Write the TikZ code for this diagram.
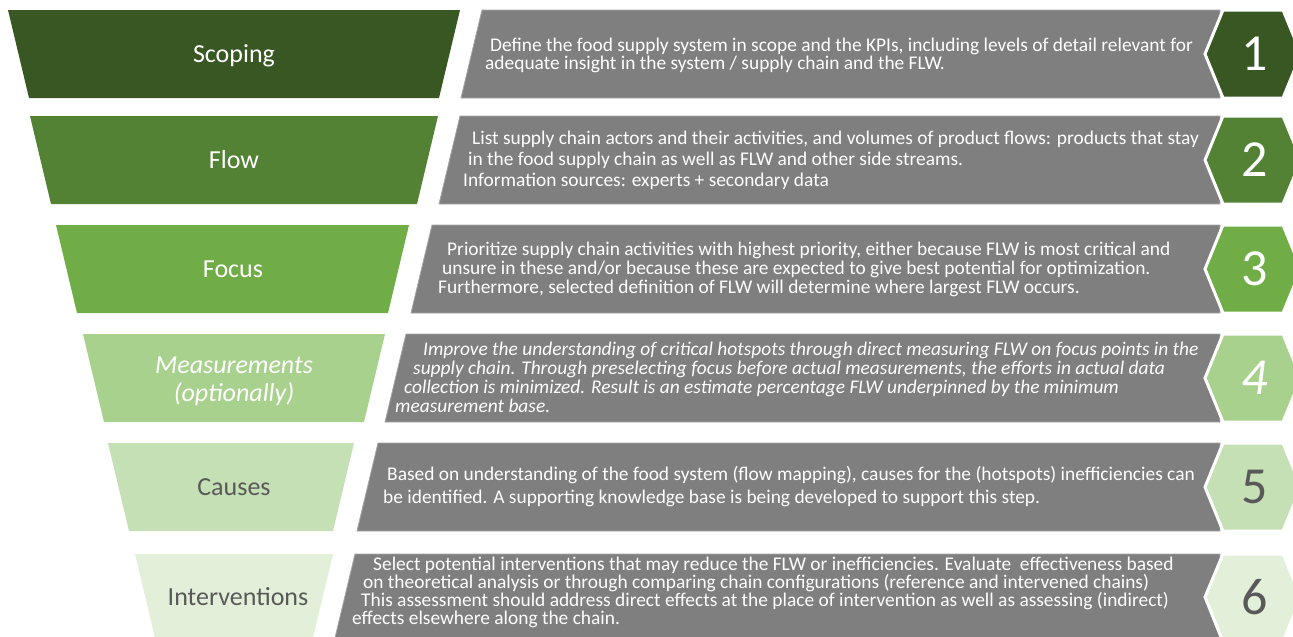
\documentclass[tikz,border=0pt]{standalone}
\usepackage{fontspec}
\setmainfont{Carlito}
\usepackage{tikz}

\definecolor{stageA}{HTML}{385723}
\definecolor{stageB}{HTML}{548235}
\definecolor{stageC}{HTML}{70AD47}
\definecolor{stageD}{HTML}{A9D18E}
\definecolor{stageE}{HTML}{C5E0B4}
\definecolor{stageF}{HTML}{E2F0D9}
\definecolor{boxgrey}{HTML}{7F7F7F}
\definecolor{boxedge}{HTML}{A6A6A6}
\definecolor{darktext}{HTML}{595959}

\begin{document}
\begin{tikzpicture}
            [
            x=1pt, y=-1pt,
            stagename/.style={font={\fontsize{26}{28}\selectfont},
                text=white, inner sep=0pt, text height=16.7pt, text depth=0pt},
            notetext/.style={font={\fontsize{19.4}{#1}\selectfont},
                text=white, align=left, anchor=west, inner sep=0pt},
            greybox/.style={fill=boxgrey, draw=boxedge, line width=0.8pt},
            badge/.style={draw=white, line width=3pt, line join=miter},
            numtext/.style={font={\fontsize{52}{52}\selectfont},
                text=white, inner sep=0pt},
            ]
            \useasboundingbox (0,0) rectangle (1293,637);
            \clip (0,0) rectangle (1293,637);

            % Scoping
            \fill[stageA] (8,10) -- (460,10) -- (439,98) -- (29,98) -- cycle;
            \node[stagename] (scoping) at (234,54) {Scoping};
            \filldraw[greybox] (482,10) -- (1220,10) -- (1220,98) -- (461,98) -- cycle;
            \node[notetext=18] (scopingtext) at (485,55) {\hspace*{5pt}Define the food supply system in scope and the KPIs, including levels of detail relevant for\\adequate insight in the system / supply chain and the FLW.};
            \filldraw[badge, fill=stageA] (1205,54) -- (1223,10) -- (1283,10) -- (1301,54) -- (1283,98) -- (1223,98) -- cycle;
            \node[numtext] (num1) at (1255,54) {1};

            % Flow
            \fill[stageB] (30,116) -- (438,116) -- (417,204) -- (51,204) -- cycle;
            \node[stagename] (flow) at (234,160) {Flow};
            \filldraw[greybox] (460,116) -- (1220,116) -- (1220,204) -- (439,204) -- cycle;
            \node[notetext=21] (flowtext) at (463,160) {\hspace*{9pt}List supply chain actors and their activities, and volumes of product flows: products that stay\\\hspace*{5pt}in the food supply chain as well as FLW and other side streams.\\Information sources: experts + secondary data};
            \filldraw[badge, fill=stageB] (1205,160) -- (1223,116) -- (1283,116) -- (1301,160) -- (1283,204) -- (1223,204) -- cycle;
            \node[numtext] (num2) at (1255,160) {2};

            % Focus
            \fill[stageC] (56,225) -- (409,225) -- (388,313) -- (77,313) -- cycle;
            \node[stagename] (focus) at (233,269) {Focus};
            \filldraw[greybox] (432,225) -- (1220,225) -- (1220,313) -- (411,313) -- cycle;
            \node[notetext=19] (focustext) at (438,269) {\hspace*{9pt}Prioritize supply chain activities with highest priority, either because FLW is most critical and\\\hspace*{4pt}unsure in these and/or because these are expected to give best potential for optimization.\\Furthermore, selected definition of FLW will determine where largest FLW occurs.};
            \filldraw[badge, fill=stageC] (1205,269) -- (1223,225) -- (1283,225) -- (1301,269) -- (1283,313) -- (1223,313) -- cycle;
            \node[numtext] (num3) at (1255,269) {3};

            % Measurements
            \fill[stageD] (83,334) -- (385,334) -- (364,422) -- (104,422) -- cycle;
            \node[stagename, font={\fontsize{26}{28}\selectfont\itshape}] (measure) at (234,365) {Measurements};
            \node[stagename, font={\fontsize{26}{28}\selectfont\itshape}] (optional) at (234,393) {(optionally)};
            \filldraw[greybox] (406,334) -- (1220,334) -- (1220,422) -- (385,422) -- cycle;
            \node[notetext=19, font={\fontsize{19.4}{19}\selectfont\itshape}] (measuretext) at (395,377) {\hspace*{28pt}Improve the understanding of critical hotspots through direct measuring FLW on focus points in the\\\hspace*{18pt}supply chain. Through preselecting focus before actual measurements, the efforts in actual data\\\hspace*{9pt}collection is minimized. Result is an estimate percentage FLW underpinned by the minimum\\measurement base.};
            \filldraw[badge, fill=stageD] (1205,378) -- (1223,334) -- (1283,334) -- (1301,378) -- (1283,422) -- (1223,422) -- cycle;
            \node[numtext, font={\fontsize{52}{52}\selectfont\itshape}] (num4) at (1255,378) {4};

            % Causes
            \fill[stageE] (108,443) -- (354,443) -- (333,531) -- (129,531) -- cycle;
            \node[stagename, text=darktext] (causes) at (234,487) {Causes};
            \filldraw[greybox] (378,443) -- (1220,443) -- (1220,531) -- (357,531) -- cycle;
            \node[notetext=23] (causestext) at (383,487) {\hspace*{4pt}Based on understanding of the food system (flow mapping), causes for the (hotspots) inefficiencies can\\be identified. A supporting knowledge base is being developed to support this step.};
            \filldraw[badge, fill=stageE] (1205,487) -- (1223,443) -- (1283,443) -- (1301,487) -- (1283,531) -- (1223,531) -- cycle;
            \node[numtext, text=darktext] (num5) at (1255,487) {5};

            % Interventions
            \fill[stageF] (135,554) -- (333,554) -- (312,642) -- (156,642) -- cycle;
            \node[stagename, text=darktext] (interventions) at (238,597) {Interventions};
            \filldraw[greybox] (355,554) -- (1220,554) -- (1220,642) -- (334,642) -- cycle;
            \node[notetext=18] (interventionstext) at (352,592) {\hspace*{21pt}Select potential interventions that may reduce the FLW or inefficiencies. Evaluate\ \ effectiveness based\\\hspace*{11pt}on theoretical analysis or through comparing chain configurations (reference and intervened chains)\\\hspace*{9pt}This assessment should address direct effects at the place of intervention as well as assessing (indirect)\\effects elsewhere along the chain.};
            \filldraw[badge, fill=stageF] (1205,597) -- (1223,554) -- (1283,554) -- (1301,597) -- (1283,642) -- (1223,642) -- cycle;
            \node[numtext, text=darktext] (num6) at (1255,597) {6};
        \end{tikzpicture}
\end{document}
